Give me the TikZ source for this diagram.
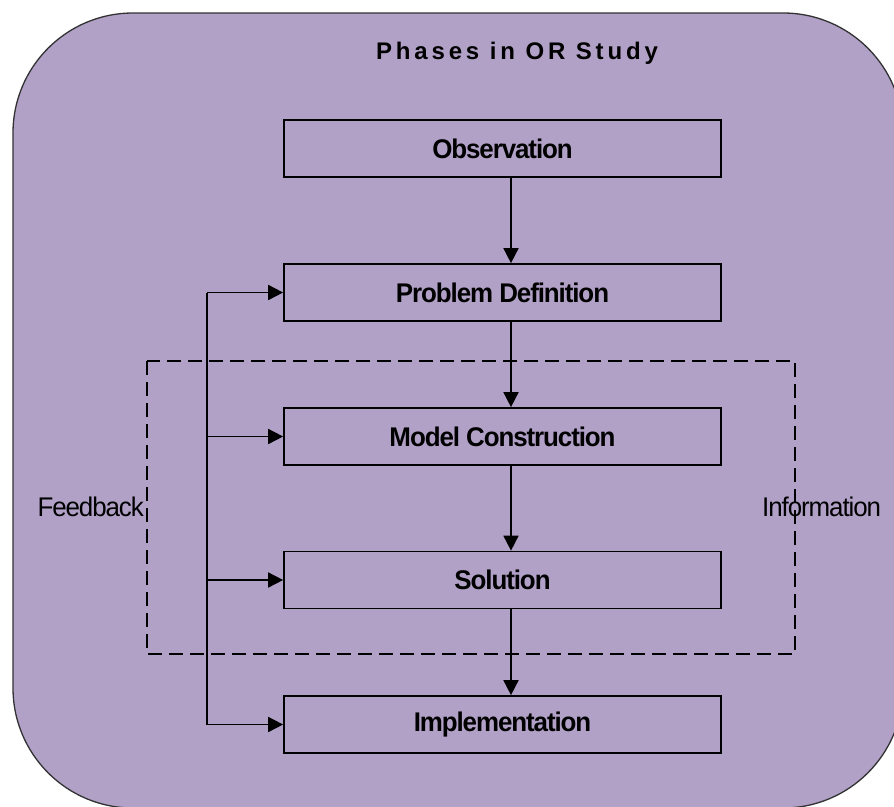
\documentclass[tikz,border=0pt]{standalone}
\usepackage{fontspec}
\setmainfont{Liberation Sans}
\newfontfamily\boxfont[FakeStretch=0.96,LetterSpace=-4]{Liberation Sans}
\newfontfamily\titlefont[LetterSpace=16]{Liberation Sans}
\usetikzlibrary{arrows.meta}
\definecolor{bgpurple}{RGB}{177,161,199}
\definecolor{edgegray}{RGB}{50,50,50}
\tikzset{
  phasebox/.style={draw=black, line width=1.7pt, minimum width=437pt, minimum height=57pt, inner sep=0pt,
    font=\boxfont\bfseries\fontsize{27}{31}\selectfont},
  arr/.style={draw=black, line width=1.7pt, -{Triangle[length=15pt,width=15pt]}},
  sidelabel/.style={inner sep=0pt, font=\boxfont\fontsize{27}{31}\selectfont},
}
\begin{document}
\begin{tikzpicture}[x=1pt,y=-1pt]
\useasboundingbox (0,0) rectangle (894,806);
\begin{scope}
\clip (0,0) rectangle (894,806);
\draw[fill=bgpurple, draw=edgegray, line width=1.3pt, rounded corners=120pt] (13,13) rectangle (903,808);
\end{scope}
\node (title) at (517,53) {\titlefont\bfseries\fontsize{24}{28}\selectfont Phases in OR Study};
\draw[line width=1.7pt, dash pattern=on 14pt off 7pt] (147,361) rectangle (795,654);
\node[phasebox] (obs) at (502.5,148.5) {Observation};
\node[phasebox] (pd) at (502.5,292.5) {Problem Definition};
\node[phasebox] (mc) at (502.5,436.5) {Model Construction};
\node[phasebox] (sol) at (502.5,580) {Solution};
\node[phasebox] (impl) at (502.5,724.5) {Implementation};
\coordinate (axis) at (511,0);
\coordinate (fb) at (207,0);
\draw[arr] (obs.south -| axis) -- (pd.north -| axis);
\draw[arr] (pd.south -| axis) -- (mc.north -| axis);
\draw[arr] (mc.south -| axis) -- (sol.north -| axis);
\draw[arr] (sol.south -| axis) -- (impl.north -| axis);
\draw[line width=1.7pt] (pd.west -| fb) -- (impl.west -| fb);
\draw[arr] (pd.west -| fb) -- (pd.west);
\draw[arr] (mc.west -| fb) -- (mc.west);
\draw[arr] (sol.west -| fb) -- (sol.west);
\draw[arr] (impl.west -| fb) -- (impl.west);
\node[sidelabel, anchor=east] (feedback) at (144,507) {Feedback};
\node[sidelabel, anchor=west] (info) at (762,507) {Information};
\end{tikzpicture}
\end{document}
